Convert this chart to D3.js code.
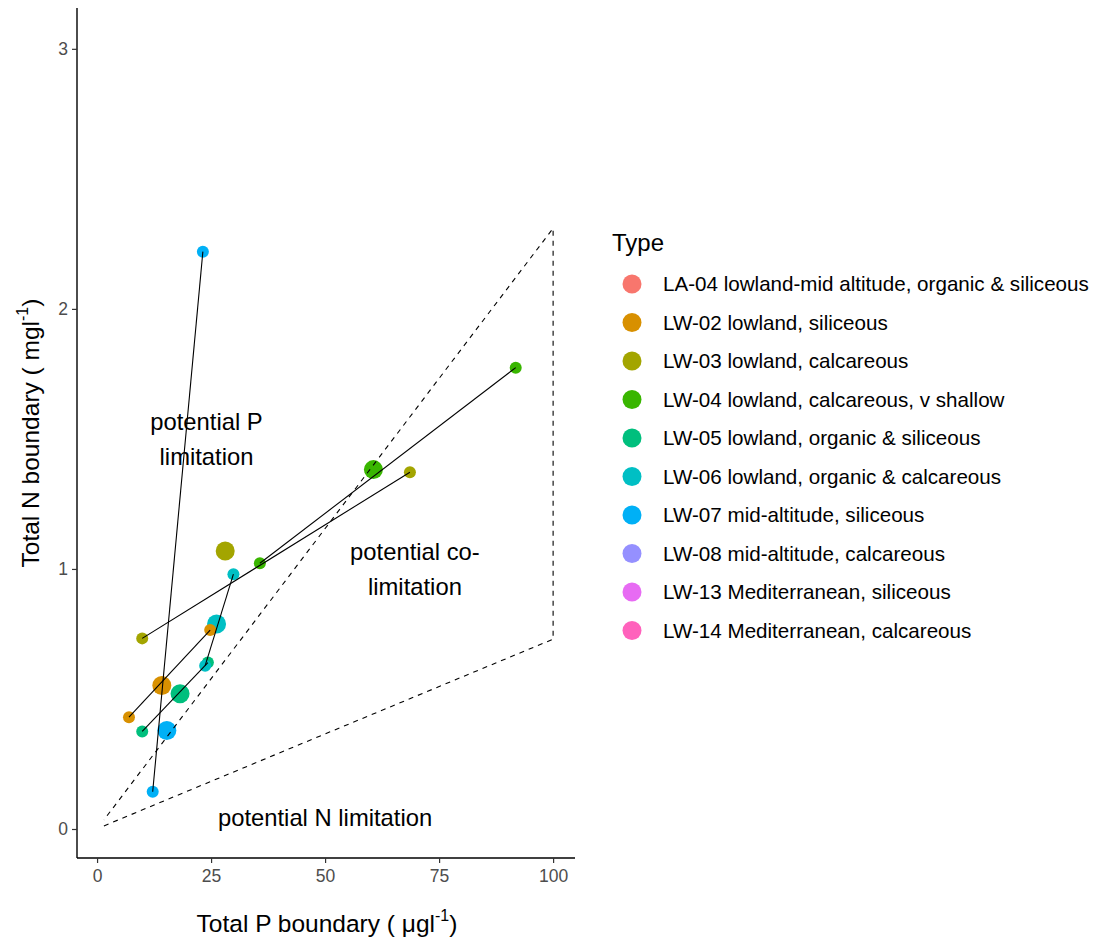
<!DOCTYPE html>
<html>
<head>
<meta charset="utf-8">
<script src="https://cdn.jsdelivr.net/npm/d3@7"></script>
<style>
  body { margin: 0; background: #fff; }
  text { font-family: "Liberation Sans", Arial, sans-serif; }
</style>
</head>
<body>
<svg id="svg" width="1093" height="941"></svg>
<script>
// DATA
var types = ["LA-04 lowland-mid altitude, organic & siliceous", "LW-02 lowland, siliceous",
  "LW-03 lowland, calcareous", "LW-04 lowland, calcareous, v shallow",
  "LW-05 lowland, organic & siliceous", "LW-06 lowland, organic & calcareous",
  "LW-07 mid-altitude, siliceous", "LW-08 mid-altitude, calcareous",
  "LW-13 Mediterranean, siliceous", "LW-14 Mediterranean, calcareous"];
var colours = ["#F8766D", "#D89000", "#A3A500", "#39B600", "#00BF7D",
  "#00BFC4", "#00B0F6", "#9590FF", "#E76BF3", "#FF62BC"];

// types that have boundaries plotted
var shown = [1, 2, 3, 4, 5, 6];
var lowP  = [7.0, 9.9, 35.7, 9.9, 23.7, 12.2];
var lowN  = [0.430, 0.733, 1.022, 0.375, 0.628, 0.143];
var highP = [24.8, 68.6, 91.8, 24.3, 29.9, 23.2];
var highN = [0.765, 1.372, 1.774, 0.640, 0.980, 2.22];
var midP  = [14.2, 28.1, 60.6, 18.2, 26.2, 15.3];
var midN  = [0.552, 1.069, 1.382, 0.520, 0.788, 0.379];

// dashed envelope of N:P ratios
var envP = [1.5, 100, 100, 1.5];
var envN = [0.012, 0.73, 2.31, 0.035];

var xTicks = [0, 25, 50, 75, 100];
var yTicks = [0, 1, 2, 3];

// SETUP
var svg = d3.select("#svg");
var x = d3.scaleLinear().domain([-4.4, 104.8]).range([77, 575]);
var y = d3.scaleLinear().domain([-0.1115, 3.157]).range([858, 8]);

var g = svg.append("g");

// points
var big = [], small = [];
shown.forEach(function (t, i) {
  big.push({ t: t, p: midP[i], n: midN[i] });
  small.push({ t: t, p: lowP[i], n: lowN[i] });
  small.push({ t: t, p: highP[i], n: highN[i] });
});

g.selectAll(".big").data(big).enter().append("circle")
  .attr("cx", function (d) { return x(d.p); })
  .attr("cy", function (d) { return y(d.n); })
  .attr("r", 9.5)
  .attr("fill", function (d) { return colours[d.t]; });

g.selectAll(".small").data(small).enter().append("circle")
  .attr("cx", function (d) { return x(d.p); })
  .attr("cy", function (d) { return y(d.n); })
  .attr("r", 6)
  .attr("fill", function (d) { return colours[d.t]; });

// segments joining low and high boundaries
g.selectAll(".seg").data(shown).enter().append("line")
  .attr("x1", function (d, i) { return x(lowP[i]); })
  .attr("y1", function (d, i) { return y(lowN[i]); })
  .attr("x2", function (d, i) { return x(highP[i]); })
  .attr("y2", function (d, i) { return y(highN[i]); })
  .attr("stroke", "#000")
  .attr("stroke-width", 1.1);

var env = d3.line()
  .x(function (d) { return x(envP[d]); })
  .y(function (d) { return y(envN[d]); });

g.append("path")
  .datum([0, 1, 2, 3])
  .attr("d", env)
  .attr("fill", "none")
  .attr("stroke", "#000")
  .attr("stroke-width", 1.1)
  .attr("stroke-dasharray", "5,5");

// region labels
function label(p, n, lines) {
  var t = g.append("text")
    .attr("x", x(p)).attr("y", y(n))
    .attr("text-anchor", "middle")
    .attr("font-size", 23.8)
    .attr("fill", "#000");
  lines.forEach(function (s, i) {
    t.append("tspan")
      .attr("x", x(p))
      .attr("dy", i == 0 ? (0.35 - (lines.length - 1) * 0.73) + "em" : "1.46em")
      .text(s);
  });
}
label(24, 1.5, ["potential P", "limitation"]);
label(69.7, 1.0, ["potential co-", "limitation"]);
label(50, 0.042, ["potential N limitation"]);

// AXES
var ax = g.append("g").attr("transform", "translate(0,858)")
  .call(d3.axisBottom(x).tickValues(xTicks).tickSize(5).tickPadding(7));
var ay = g.append("g").attr("transform", "translate(77,0)")
  .call(d3.axisLeft(y).tickValues(yTicks).tickFormat(d3.format("d")).tickSize(5).tickPadding(4));
[ax, ay].forEach(function (a) {
  a.select(".domain").attr("stroke", "#000").attr("stroke-width", 1.4);
  a.selectAll(".tick line").attr("stroke", "#333").attr("stroke-width", 1.2);
  a.selectAll(".tick text").attr("fill", "#4D4D4D").attr("font-size", 17.5)
    .attr("font-family", "Liberation Sans, Arial, sans-serif");
});
ax.select(".domain").attr("d", "M77,0H575");
ay.select(".domain").attr("d", "M0,858V8");

var xt = svg.append("text")
  .attr("x", 327).attr("y", 932)
  .attr("text-anchor", "middle")
  .attr("font-size", 24.5);
xt.append("tspan").text("Total P boundary ( \u03bcgl");
xt.append("tspan").attr("font-size", 16).attr("dy", -11).text("-1");
xt.append("tspan").attr("dy", 11).text(")");

var yt = svg.append("text")
  .attr("transform", "translate(39,433) rotate(-90)")
  .attr("text-anchor", "middle")
  .attr("font-size", 24.5);
yt.append("tspan").text("Total N boundary ( mgl");
yt.append("tspan").attr("font-size", 16).attr("dy", -11).text("-1");
yt.append("tspan").attr("dy", 11).text(")");

// LEGEND
var leg = svg.append("g");
leg.append("text")
  .attr("x", 612).attr("y", 251)
  .attr("font-size", 24)
  .text("Type");

var item = leg.selectAll(".item").data(types).enter().append("g")
  .attr("transform", function (d, i) { return "translate(0," + (284 + i * 38.5) + ")"; });
item.append("circle")
  .attr("cx", 632).attr("cy", 0).attr("r", 9.5)
  .attr("fill", function (d, i) { return colours[i]; });
item.append("text")
  .attr("x", 663).attr("y", 0)
  .attr("dy", "0.35em")
  .attr("font-size", 20.6)
  .text(function (d) { return d; });
</script>
</body>
</html>
